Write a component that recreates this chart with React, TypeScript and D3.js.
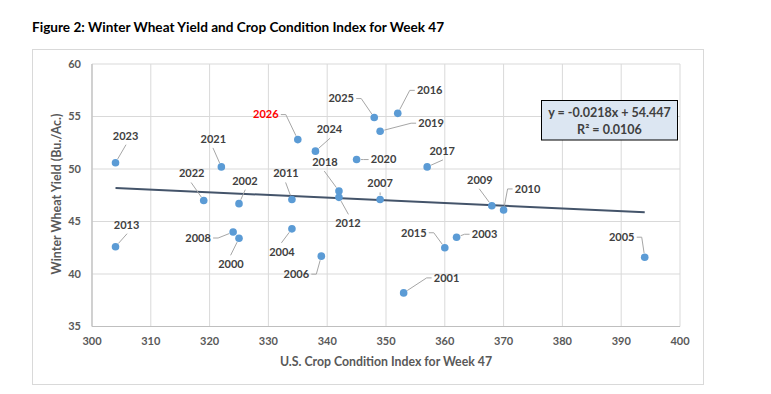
import React, { useEffect, useRef } from "react";
import * as d3 from "d3";

// winter wheat yield vs crop condition index, week 47
const years = [2000, 2001, 2002, 2003, 2004, 2005, 2006, 2007, 2008, 2009, 2010, 2011, 2012, 2013,
  2015, 2016, 2017, 2018, 2019, 2020, 2021, 2022, 2023, 2024, 2025, 2026];
const conditionIndex = [325, 353, 325, 362, 334, 394, 339, 349, 324, 368, 370, 334, 342, 304,
  360, 352, 357, 342, 349, 345, 322, 319, 304, 338, 348, 335];
const yieldBu = [43.4, 38.2, 46.7, 43.5, 44.3, 41.6, 41.7, 47.1, 44.0, 46.5, 46.1, 47.1, 47.3, 42.6,
  42.5, 55.3, 50.2, 47.9, 53.6, 50.9, 50.2, 47.0, 50.6, 51.7, 54.9, 52.8];
const highlightYear = 2026;

const xTicks = [300, 310, 320, 330, 340, 350, 360, 370, 380, 390, 400];
const yTicks = [35, 40, 45, 50, 55, 60];
const equationText = ["y = -0.0218x + 54.447", "R² = 0.0106"];

// label placement (pixel offset of label centre from its point)
const labelOffsets: Record<number, [number, number]> = {
  2000: [-8, 26], 2001: [43, -15], 2002: [6, -23], 2003: [28, -3], 2004: [-10, 23],
  2005: [-23, -20], 2006: [-25, 18], 2007: [0, -16], 2008: [-35, 6], 2009: [-12, -26],
  2010: [24, -21], 2011: [-6, -26], 2012: [9, 26], 2013: [11, -22], 2015: [-31, -15],
  2016: [32, -23], 2017: [15, -16], 2018: [-14, -29], 2019: [51, -8], 2020: [27, 0],
  2021: [-8, -28], 2022: [-12, -27], 2023: [10, -27], 2024: [14, -22], 2025: [-33, -19],
  2026: [-32, -25],
};

const FONT = "Lato, 'Open Sans', sans-serif";

export default function App() {
  const ref = useRef<SVGSVGElement>(null);

  useEffect(() => {
    const svg = d3.select(ref.current);
    svg.selectAll("*").remove();

    const x = d3.scaleLinear().domain([300, 400]).range([92, 680]);
    const y = d3.scaleLinear().domain([35, 60]).range([326.5, 64]);

    // outer frame
    svg.append("rect").attr("x", 32.5).attr("y", 49.5).attr("width", 671).attr("height", 335)
      .attr("fill", "#fff").attr("stroke", "#d9d9d9");

    svg.append("text").attr("x", 32).attr("y", 31.5)
      .attr("font-family", FONT).attr("font-weight", 700).attr("font-size", 13.6)
      .attr("fill", "#000")
      .text("Figure 2: Winter Wheat Yield and Crop Condition Index for Week 47");

    // grid
    const g = svg.append("g");
    g.selectAll(".vg").data(xTicks).enter().append("line")
      .attr("x1", (d) => x(d)).attr("x2", (d) => x(d))
      .attr("y1", y(60)).attr("y2", y(35))
      .attr("stroke", "#d9d9d9").attr("stroke-width", 1);
    g.selectAll(".hg").data(yTicks).enter().append("line")
      .attr("x1", x(300)).attr("x2", x(400))
      .attr("y1", (d) => y(d)).attr("y2", (d) => y(d))
      .attr("stroke", "#d9d9d9").attr("stroke-width", 1);
    g.append("line").attr("x1", x(300)).attr("x2", x(400)).attr("y1", y(35)).attr("y2", y(35))
      .attr("stroke", "#bfbfbf").attr("stroke-width", 1.2);
    g.append("line").attr("x1", x(300)).attr("x2", x(300)).attr("y1", y(60)).attr("y2", y(35))
      .attr("stroke", "#bfbfbf").attr("stroke-width", 1.2);

    // tick labels
    g.selectAll(".xt").data(xTicks).enter().append("text")
      .attr("x", (d) => x(d)).attr("y", y(35) + 15).attr("dy", "0.35em")
      .attr("text-anchor", "middle")
      .attr("font-family", FONT).attr("font-weight", 700).attr("font-size", 11)
      .attr("fill", "#595959").text((d) => d);
    g.selectAll(".yt").data(yTicks).enter().append("text")
      .attr("x", x(300) - 11).attr("y", (d) => y(d)).attr("dy", "0.35em")
      .attr("text-anchor", "end")
      .attr("font-family", FONT).attr("font-weight", 700).attr("font-size", 11)
      .attr("fill", "#595959").text((d) => d);

    // axis titles
    svg.append("text").attr("x", 386).attr("y", 362).attr("dy", "0.35em")
      .attr("text-anchor", "middle")
      .attr("font-family", FONT).attr("font-weight", 700).attr("font-size", 12.3)
      .attr("fill", "#595959").text("U.S. Crop Condition Index for Week 47");
    svg.append("text").attr("transform", "translate(57,194) rotate(-90)").attr("dy", "0.35em")
      .attr("text-anchor", "middle")
      .attr("font-family", FONT).attr("font-weight", 700).attr("font-size", 12.5)
      .attr("fill", "#595959").text("Winter Wheat Yield (Bu./Ac.)");

    const pts = years.map((yr, i) => ({ year: yr, cx: conditionIndex[i], cy: yieldBu[i] }));

    // linear trendline (least squares)
    const mx = d3.mean(pts, (p) => p.cx)!;
    const my = d3.mean(pts, (p) => p.cy)!;
    const sxy = d3.sum(pts, (p) => (p.cx - mx) * (p.cy - my));
    const sxx = d3.sum(pts, (p) => (p.cx - mx) ** 2);
    const slope = sxy / sxx;
    const icpt = my - slope * mx;
    const [xmin, xmax] = d3.extent(pts, (p) => p.cx) as [number, number];
    svg.append("path")
      .attr("d", d3.line<number>().x((d) => x(d)).y((d) => y(slope * d + icpt))([xmin, xmax]))
      .attr("stroke", "#44546a").attr("stroke-width", 2).attr("fill", "none");

    // leader lines + labels
    const r = 3.8;
    const hw = 13, hh = 5;
    const lab = svg.append("g");
    pts.forEach((p) => {
      const px = x(p.cx), py = y(p.cy);
      const [dx, dy] = labelOffsets[p.year];
      const lx = px + dx, ly = py + dy;
      let pathPts: [number, number][];
      if (Math.abs(dx) >= 20) {
        const sx = dx < 0 ? lx + hw + 2 : lx - hw - 2;
        const stub = dx < 0 ? sx + 5 : sx - 5;
        pathPts = [[sx, ly], [stub, ly]];
      } else {
        const sy = dy < 0 ? ly + hh + 4 : ly - hh - 4;
        pathPts = [[lx + dx * 0.05, sy]];
      }
      const last = pathPts[pathPts.length - 1];
      const vx = px - last[0], vy = py - last[1];
      const len = Math.hypot(vx, vy);
      if (len > r + 1) {
        pathPts.push([px - (vx / len) * (r + 0.5), py - (vy / len) * (r + 0.5)]);
        lab.append("path").attr("d", d3.line()(pathPts))
          .attr("fill", "none").attr("stroke", "#a6a6a6").attr("stroke-width", 1);
      }
      lab.append("text").attr("x", lx).attr("y", ly).attr("dy", "0.35em")
        .attr("text-anchor", "middle")
        .attr("font-family", FONT).attr("font-weight", 700).attr("font-size", 11)
        .attr("fill", p.year === highlightYear ? "#ff0000" : "#404040")
        .text(p.year);
    });

    // points
    svg.append("g").selectAll("circle").data(pts).enter().append("circle")
      .attr("cx", (d) => x(d.cx)).attr("cy", (d) => y(d.cy)).attr("r", r)
      .attr("fill", "#5b9bd5");

    // equation box
    const eq = svg.append("g");
    eq.append("rect").attr("x", 541.5).attr("y", 100.5).attr("width", 136).attr("height", 39.5)
      .attr("fill", "#dce6f2").attr("stroke", "#000").attr("stroke-width", 1);
    eq.selectAll("text").data(equationText).enter().append("text")
      .attr("x", 609.5).attr("y", (d, i) => 112.5 + i * 17).attr("dy", "0.35em")
      .attr("text-anchor", "middle")
      .attr("font-family", FONT).attr("font-weight", 700).attr("font-size", 12.5)
      .attr("fill", "#404040").text((d) => d);
  }, []);

  return (
    <div style={{ position: "absolute", left: 0, top: 0 }}>
      <svg ref={ref} width={771} height={394} style={{ display: "block", background: "#fff" }} />
    </div>
  );
}
